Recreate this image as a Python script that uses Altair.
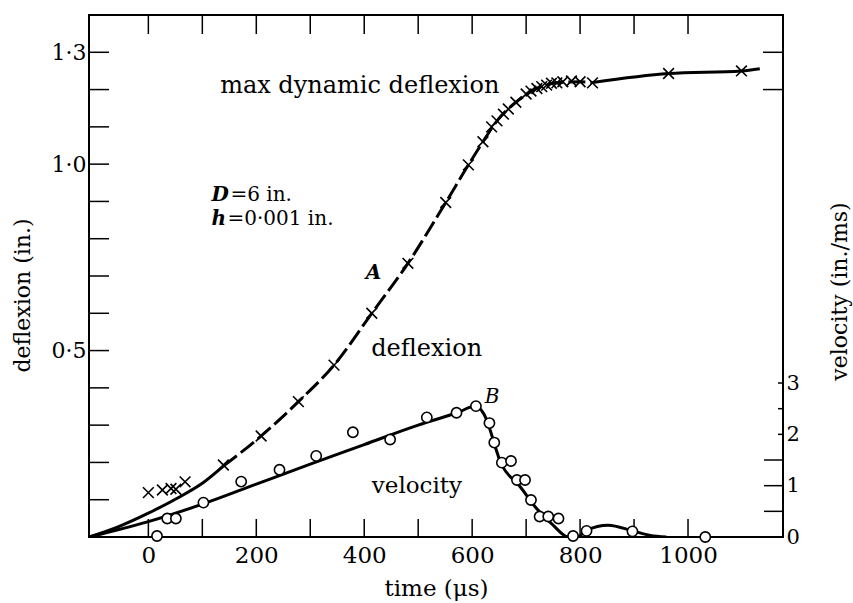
import altair as alt
import pandas as pd

# ---- data ----
# deflexion measurements (crosses)
defl_t = [0, 26, 42, 51, 68, 139, 209, 278, 344, 414, 481, 551, 593, 620, 636, 646,
          658, 667, 681, 700, 709, 720, 729, 738, 747, 757, 768, 784, 800, 823, 964, 1099]
defl_d = [0.119, 0.126, 0.130, 0.128, 0.148, 0.193, 0.271, 0.363, 0.461, 0.600, 0.734,
          0.897, 0.998, 1.060, 1.100, 1.116, 1.134, 1.148, 1.166, 1.188, 1.196, 1.203,
          1.208, 1.212, 1.217, 1.218, 1.221, 1.223, 1.221, 1.218, 1.243, 1.250]

# velocity measurements (circles)
vel_t = [16, 35, 51, 102, 172, 243, 311, 379, 448, 516, 571, 607, 632, 641, 655, 672,
         683, 698, 709, 725, 741, 760, 787, 812, 897, 1032]
vel_v = [0.02, 0.36, 0.36, 0.67, 1.08, 1.31, 1.58, 2.04, 1.90, 2.33, 2.42, 2.55, 2.22,
         1.84, 1.45, 1.48, 1.11, 1.11, 0.72, 0.40, 0.40, 0.36, 0.02, 0.12, 0.11, 0.0]

# curve A (deflexion)
curveA_t = [-110, -55, 0, 56, 100, 139, 209, 278, 344, 414, 481, 551, 593, 620, 646,
            681, 720, 757, 800, 823, 964, 1099, 1133]
curveA_d = [0.0, 0.028, 0.064, 0.106, 0.144, 0.190, 0.271, 0.363, 0.461, 0.600, 0.734,
            0.897, 0.998, 1.060, 1.116, 1.166, 1.203, 1.218, 1.221, 1.219, 1.243, 1.250, 1.256]
solid_end_idx = 5      # solid up to t=139
dashed_end_idx = 19    # dashed up to t=823

# curve B (velocity)
curveB_t = [-110, -60, 0, 100, 200, 300, 400, 500, 572, 607, 621, 655, 689, 719, 750,
            778, 795, 812, 852, 897, 930, 960]
curveB_v = [0.0, 0.13, 0.30, 0.64, 1.03, 1.42, 1.80, 2.18, 2.42, 2.55, 2.41, 1.40, 0.98,
            0.56, 0.23, 0.0, 0.0, 0.13, 0.23, 0.12, 0.03, 0.0]

x_tick_vals = [0, 100, 200, 300, 400, 500, 600, 700, 800, 900, 1000]
x_label_vals = [0, 200, 400, 600, 800, 1000]
d_tick_vals = [0.1, 0.2, 0.3, 0.4, 0.5, 0.6, 0.7, 0.8, 0.9, 1.0, 1.1, 1.2, 1.3]
d_label_vals = [0.5, 1.0, 1.3]
d_right_ticks = [1.2, 1.3]
v_long_ticks = [0.5, 1.0, 1.5]
v_short_ticks = [2.0, 2.5, 3.0]
v_label_vals = [0, 1, 2, 3]

W, H = 694, 522
FONT = "DejaVu Serif"

defl_df = pd.DataFrame({"t": defl_t, "d": defl_d})
vel_df = pd.DataFrame({"t": vel_t, "v": vel_v})
curveA = pd.DataFrame({"t": curveA_t, "d": curveA_d})
curveB = pd.DataFrame({"t": curveB_t, "v": curveB_v})
A_solid1 = curveA.iloc[: solid_end_idx + 1]
A_dash = curveA.iloc[solid_end_idx: dashed_end_idx + 1]
A_solid2 = curveA.iloc[dashed_end_idx:]

X = alt.X("t:Q", scale=alt.Scale(domain=[-110, 1176], nice=False, zero=False),
          axis=alt.Axis(values=x_label_vals, format="d", labelFontSize=23, labelPadding=7,
                        title="time (μs)", titleFontSize=23, titlePadding=10,
                        titleFontWeight="normal"))
YD = alt.Y("d:Q", scale=alt.Scale(domain=[0, 1.4], nice=False),
           axis=alt.Axis(orient="left", values=d_label_vals, labelFontSize=22,
                         labelPadding=3,
                         labelExpr="replace(format(datum.value, '.1f'), '.', '·')",
                         title="deflexion (in.)", titleFontSize=22,
                         titleFontWeight="normal", titleX=-67, titleY=280,
                         titleAngle=270, titleAlign="center", titleBaseline="middle"))
YV = alt.Y("v:Q", scale=alt.Scale(domain=[0, 10.17], nice=False),
           axis=alt.Axis(orient="right", values=v_label_vals, labelFontSize=21,
                         labelPadding=3, format="d",
                         title="velocity (in./ms)", titleFontSize=22,
                         titleFontWeight="normal", titleX=56, titleY=276,
                         titleAngle=270, titleAlign="center", titleBaseline="middle"))

cross_path = "M-1,-1L1,1M-1,1L1,-1"

# ---- deflexion group ----
lineA1 = alt.Chart(A_solid1).mark_line(color="black", strokeWidth=3, interpolate="monotone",
                                       clip=True).encode(x=X, y=YD)
lineA2 = alt.Chart(A_dash).mark_line(color="black", strokeWidth=3, interpolate="monotone",
                                     strokeDash=[17, 5], clip=True).encode(x=X, y=YD)
lineA3 = alt.Chart(A_solid2).mark_line(color="black", strokeWidth=3, interpolate="monotone",
                                       clip=True).encode(x=X, y=YD)
crosses = alt.Chart(defl_df).mark_point(shape=cross_path, size=115, filled=False,
                                        color="black", strokeWidth=1.6, opacity=1
                                        ).encode(x=X, y=YD)

left_ticks = alt.Chart(pd.DataFrame({"d": d_tick_vals})).mark_rule(
    color="black", strokeWidth=1.5).encode(y=YD, x=alt.value(0), x2=alt.value(20))
right_d_ticks = alt.Chart(pd.DataFrame({"d": d_right_ticks})).mark_rule(
    color="black", strokeWidth=1.5).encode(y=YD, x=alt.value(W - 20), x2=alt.value(W))
top_ticks = alt.Chart(pd.DataFrame({"t": x_tick_vals})).mark_rule(
    color="black", strokeWidth=1.5).encode(x=X, y=alt.value(0), y2=alt.value(19))
bottom_ticks = alt.Chart(pd.DataFrame({"t": x_tick_vals})).mark_rule(
    color="black", strokeWidth=1.5).encode(x=X, y=alt.value(H - 18), y2=alt.value(H))

ann_d = pd.DataFrame({
    "t": [133, 413],
    "d": [1.19, 0.485],
    "label": ["max dynamic deflexion", "deflexion"],
})
text_d = alt.Chart(ann_d).mark_text(font=FONT, fontSize=24, align="left",
                                    baseline="alphabetic", color="black"
                                    ).encode(x=X, y=YD, text="label:N")
ann_sym = pd.DataFrame({"t": [117, 117], "d": [0.901, 0.838], "label": ["D", "h"]})
ann_D_rest = pd.DataFrame({"t": [117], "d": [0.901], "label": ["=6 in."]})
ann_h_rest = pd.DataFrame({"t": [117], "d": [0.838], "label": ["=0·001 in."]})
text_sym = alt.Chart(ann_sym).mark_text(font=FONT, fontSize=20, fontStyle="italic",
                                        fontWeight="bold", align="left",
                                        baseline="alphabetic", color="black"
                                        ).encode(x=X, y=YD, text="label:N")
text_D_rest = alt.Chart(ann_D_rest).mark_text(font=FONT, fontSize=20, align="left", dx=19,
                                              baseline="alphabetic", color="black"
                                              ).encode(x=X, y=YD, text="label:N")
text_h_rest = alt.Chart(ann_h_rest).mark_text(font=FONT, fontSize=20, align="left", dx=16,
                                              baseline="alphabetic", color="black"
                                              ).encode(x=X, y=YD, text="label:N")
ann_A = pd.DataFrame({"t": [417], "d": [0.707], "label": ["A"]})
text_A = alt.Chart(ann_A).mark_text(font=FONT, fontSize=20, fontStyle="italic",
                                    fontWeight="bold", align="center", baseline="middle",
                                    color="black").encode(x=X, y=YD, text="label:N")

defl_group = alt.layer(left_ticks, right_d_ticks, top_ticks, bottom_ticks,
                       lineA1, lineA2, lineA3, crosses, text_d, text_sym,
                       text_D_rest, text_h_rest, text_A)

# ---- velocity group ----
lineB = alt.Chart(curveB).mark_line(color="black", strokeWidth=3, interpolate="monotone",
                                    clip=True).encode(x=X, y=YV)
circles = alt.Chart(vel_df).mark_point(shape="circle", size=105, filled=True, fill="white",
                                       stroke="black", strokeWidth=1.6, opacity=1
                                       ).encode(x=X, y=YV)
v_long = alt.Chart(pd.DataFrame({"v": v_long_ticks})).mark_rule(
    color="black", strokeWidth=1.5).encode(y=YV, x=alt.value(W - 19), x2=alt.value(W))
v_short = alt.Chart(pd.DataFrame({"v": v_short_ticks})).mark_rule(
    color="black", strokeWidth=1.5).encode(y=YV, x=alt.value(W - 5), x2=alt.value(W))
ann_v = pd.DataFrame({"t": [414], "v": [0.86], "label": ["velocity"]})
text_v = alt.Chart(ann_v).mark_text(font=FONT, fontSize=23, align="left",
                                    baseline="alphabetic", color="black"
                                    ).encode(x=X, y=YV, text="label:N")
ann_B = pd.DataFrame({"t": [637], "v": [2.73], "label": ["B"]})
text_B = alt.Chart(ann_B).mark_text(font=FONT, fontSize=20, fontStyle="italic",
                                    align="center", baseline="middle", color="black"
                                    ).encode(x=X, y=YV, text="label:N")

vel_group = alt.layer(v_long, v_short, lineB, circles, text_v, text_B)

chart = alt.layer(defl_group, vel_group).resolve_scale(y="independent").properties(
    width=W, height=H,
    padding={"left": 89, "top": 15, "right": 70, "bottom": 66},
    autosize=alt.AutoSizeParams(type="none"),
    background="white",
).configure_view(stroke="black", strokeWidth=2).configure_axis(
    labelFont=FONT, titleFont=FONT, labelColor="black", titleColor="black",
    domain=False, ticks=False, grid=False,
)

chart.save("out.html", embed_options={"renderer": "svg", "actions": False})
